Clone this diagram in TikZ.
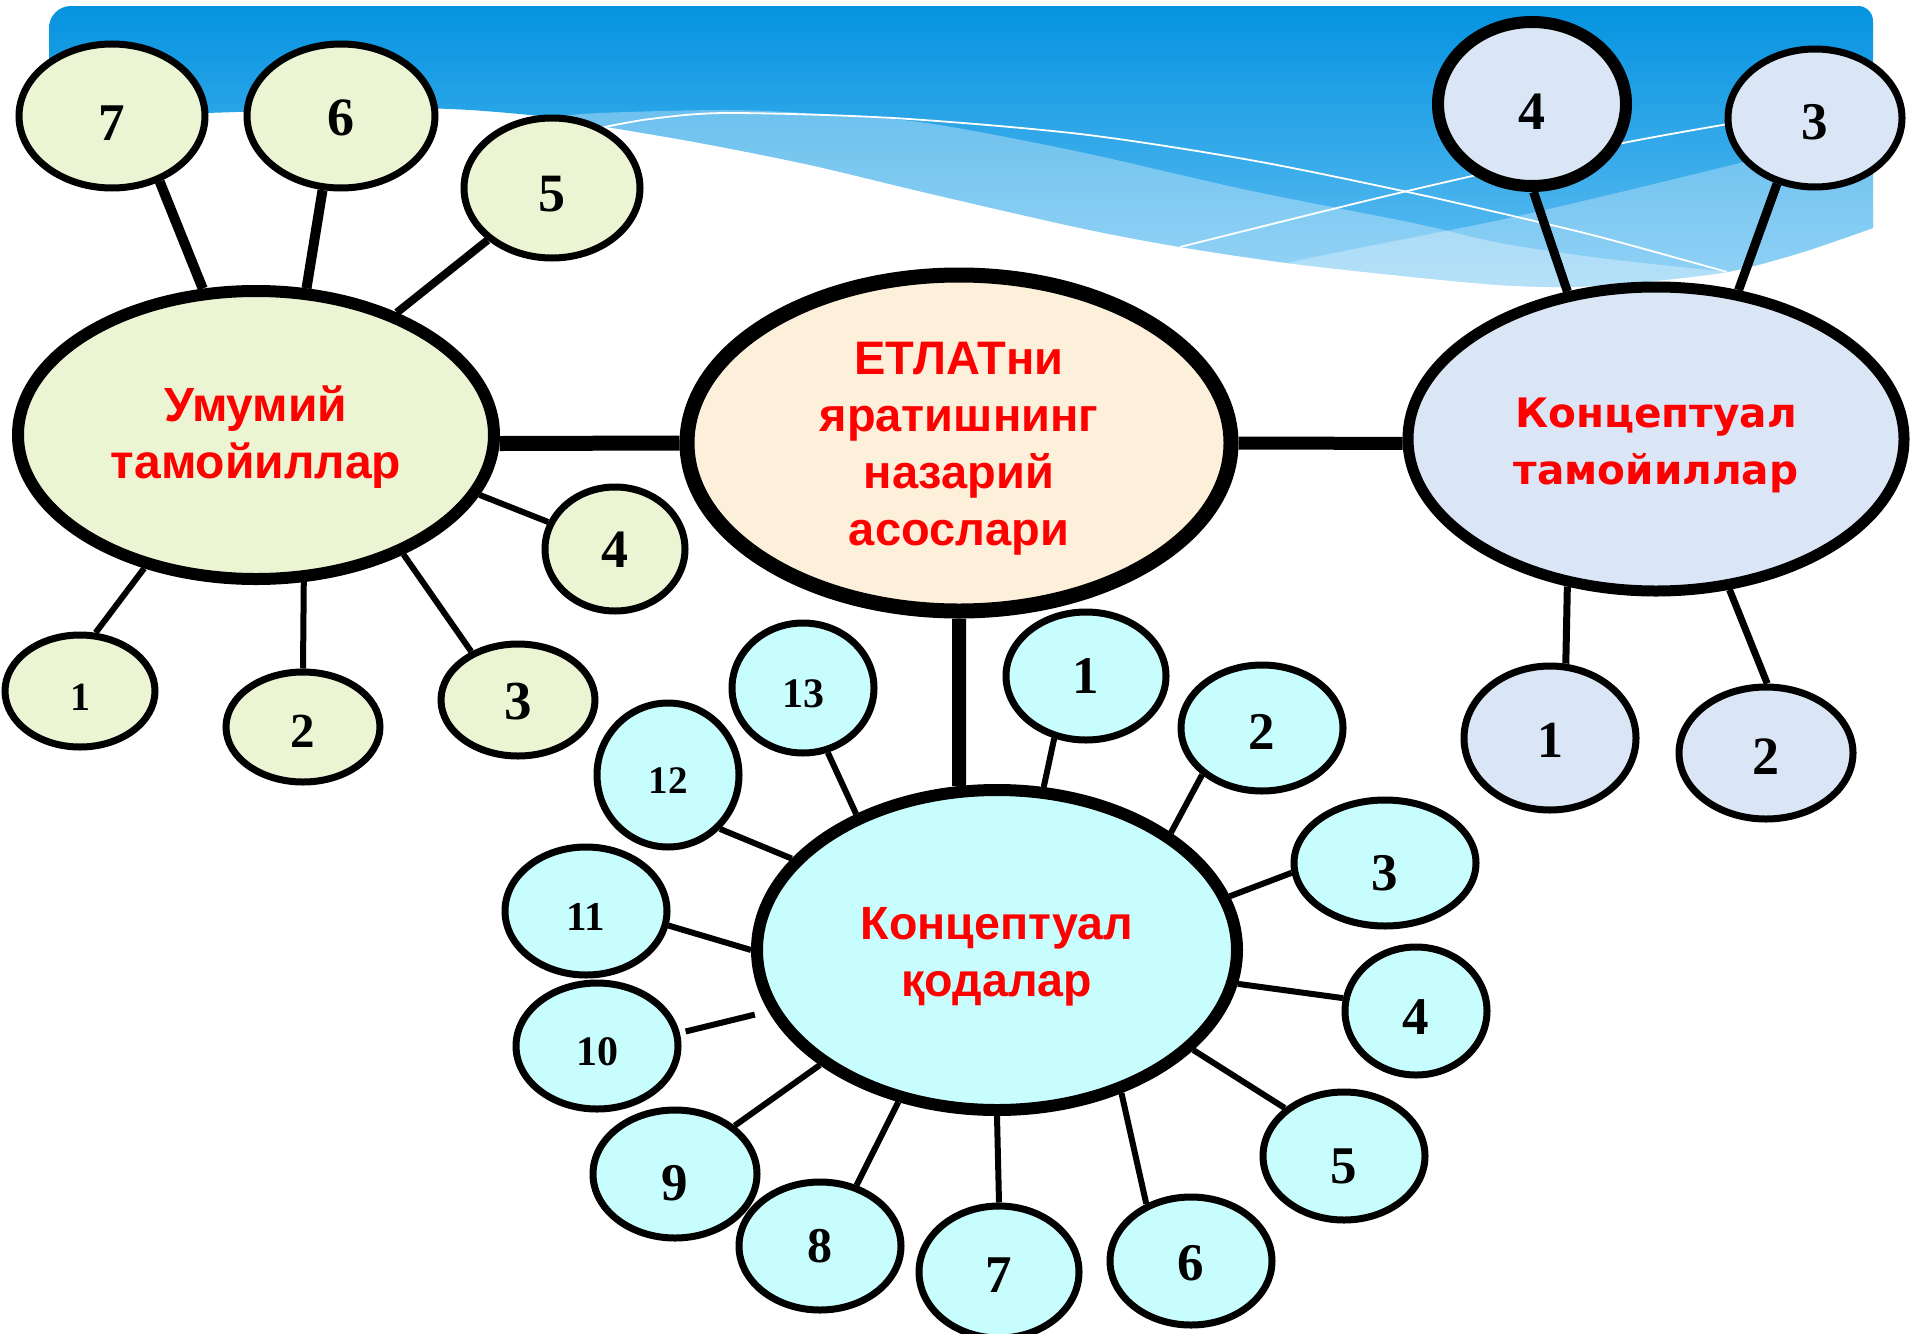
\documentclass[tikz,border=0pt]{standalone}
\usepackage{fontspec}
\setmainfont{Liberation Serif}
\newfontfamily\redfont{Liberation Sans}
\newfontfamily\widefont{DejaVu Sans}
\usetikzlibrary{shapes.geometric}
\pgfdeclarelayer{back}
\pgfdeclarelayer{mid}
\pgfsetlayers{back,mid,main}
\definecolor{fillL}{RGB}{235,245,211}
\definecolor{fillC}{RGB}{253,240,218}
\definecolor{fillR}{RGB}{218,229,245}
\definecolor{fillB}{RGB}{200,253,253}
\definecolor{banTop}{RGB}{5,147,224}
\definecolor{banBot}{RGB}{100,192,243}
\definecolor{txtred}{RGB}{255,0,0}
\newcommand\dropby[2]{\raisebox{-#1}[\height][\depth]{#2}}
\newcommand\lines[1]{\begin{tabular}{@{}c@{}}#1\end{tabular}}
\tikzset{
  ell/.style={ellipse, draw=black, inner sep=0pt, align=center},
  sz/.style 2 args={minimum width=#1pt, minimum height=#2pt},
  smallell/.style={ell, line width=3.5pt},
  bigell/.style={ell, line width=6pt},
  numtxt/.style={font=\bfseries\fontsize{#1}{#1}\selectfont},
  redtxt/.style={text=txtred, font=\redfont\bfseries\fontsize{#1}{28.5}\selectfont},
  widetxt/.style={text=txtred, font=\widefont\bfseries\fontsize{#1}{28.5}\selectfont},
  link/.style={line width=#1pt, line cap=butt},
}
\begin{document}
\begin{tikzpicture}[x=0.5pt,y=-0.5pt]
\useasboundingbox (0,0) rectangle (1911,1333);
% ---------- banner ----------
\begin{pgfonlayer}{back}
\fill[white] (0,0) rectangle (1911,1333);
\begin{scope}
\clip (49,117) -- (49,28) arc[start angle=180,end angle=270,radius=22]
  -- (1858,6) arc[start angle=270,end angle=360,radius=15] -- (1873,228)
  -- plot[smooth,tension=0.5] coordinates {(1873,228) (1800,253) (1727,272) (1633,283) (1567,287) (1500,285) (1413,277) (1287,263) (1180,247) (1080,228) (927,193) (810,165) (700,143) (607,127) (548,117) (470,110) (402,108) (300,110) (207,113) (120,116) (49,117)} -- cycle;
\shade[top color=banTop, bottom color=banBot] (0,6) rectangle (1911,292);
\fill[white, opacity=0.33] plot[smooth,tension=0.5] coordinates {(540,118) (600,113) (727,110) (820,114) (927,123) (1080,152) (1247,190) (1413,223) (1500,243) (1600,258) (1727,272) (1800,280)} -- (1800,400) -- (540,400) -- cycle;
\fill[white, opacity=0.3] plot[smooth,tension=0.5] coordinates {(1250,275) (1287,263) (1400,240) (1500,220) (1600,197) (1740,163) (1880,128)} -- (1880,400) -- (1250,400) -- cycle;
\draw[white, line width=0.9pt] plot[smooth,tension=0.5] coordinates {(600,128) (650,119) (727,113) (893,118) (1080,134) (1250,160) (1403,191) (1500,213) (1600,237) (1727,272)};
\draw[white, line width=0.9pt] plot[smooth,tension=0.5] coordinates {(1180,247) (1403,192) (1623,143) (1800,112)};
\end{scope}
\end{pgfonlayer}
% ---------- left group ----------
\node[bigell, fill=fillL, sz={238}{144}, redtxt=24] (U) at (256,435) {\dropby{2pt}{\lines{Умумий\\тамойиллар}}};
\node[smallell, fill=fillL, sz={93}{72}, numtxt=26.5] (L7) at (112,116) {\dropby{3.5pt}{7}};
\node[smallell, fill=fillL, sz={94}{72}, numtxt=27] (L6) at (341,116) {\dropby{1pt}{6}};
\node[smallell, fill=fillL, sz={88}{70}, numtxt=27] (L5) at (552,188) {\dropby{3pt}{5}};
\node[smallell, fill=fillL, sz={70}{62}, numtxt=27] (L4) at (615,549) {\dropby{0.5pt}{4}};
\node[smallell, fill=fillL, sz={77}{56}, numtxt=27.5] (L3) at (518,700) {\dropby{1pt}{3}};
\node[smallell, fill=fillL, sz={77}{55}, numtxt=24.5] (L2) at (303,727) {\dropby{2pt}{2}};
\node[smallell, fill=fillL, sz={75}{56}, numtxt=20] (L1) at (80,691) {\dropby{3pt}{1}};
% ---------- centre ----------
\node[ell, line width=7.5pt, fill=fillC, sz={272}{168}, redtxt=23.5] (C) at (959,443) {\dropby{3pt}{\lines{ЕТЛАТни\\яратишнинг\\назарий\\асослари}}};
% ---------- right group ----------
\node[ell, line width=5.5pt, fill=fillR, sz={248}{152}, widetxt=20.3] (K) at (1656,439) {\dropby{3pt}{\lines{Концептуал\\тамойиллар}}};
\node[bigell, fill=fillR, sz={94}{82}, numtxt=27] (R4) at (1532,104) {\dropby{4pt}{4}};
\node[smallell, fill=fillR, sz={87}{69}, numtxt=26.5] (R3) at (1815,118) {\dropby{2pt}{3}};
\node[smallell, fill=fillR, sz={86}{72}, numtxt=26] (R1) at (1550,738) {\dropby{1pt}{1}};
\node[smallell, fill=fillR, sz={87}{66}, numtxt=27] (R2) at (1766,753) {\dropby{2pt}{2}};
% ---------- bottom group ----------
\node[bigell, fill=fillB, sz={240}{160}, redtxt=23.3] (Q) at (997,950) {\dropby{3.5pt}{\lines{Концептуал\\қодалар}}};
\node[smallell, fill=fillB, sz={80}{64}, numtxt=26.5] (B1) at (1086,676) {1};
\node[smallell, fill=fillB, sz={81}{63}, numtxt=26.5] (B2) at (1262,728) {\dropby{2pt}{2}};
\node[smallell, fill=fillB, sz={91}{63}, numtxt=26.5] (B3) at (1385,863) {\dropby{5pt}{3}};
\node[smallell, fill=fillB, sz={71}{64}, numtxt=26.5] (B4) at (1416,1011) {\dropby{3pt}{4}};
\node[smallell, fill=fillB, sz={81}{64}, numtxt=26.5] (B5) at (1344,1156) {\dropby{5pt}{5}};
\node[smallell, fill=fillB, sz={81}{64}, numtxt=26.5] (B6) at (1191,1261) {\dropby{1pt}{6}};
\node[smallell, fill=fillB, sz={80}{66}, numtxt=26.5] (B7) at (999,1272) {\dropby{1.5pt}{7}};
\node[smallell, fill=fillB, sz={81}{64}, numtxt=25] (B8) at (820,1246) {8};
\node[smallell, fill=fillB, sz={82}{64}, numtxt=26.5] (B9) at (675,1174) {\dropby{4.5pt}{9}};
\node[smallell, fill=fillB, sz={81}{63}, numtxt=21] (B10) at (597,1046) {\dropby{3pt}{10}};
\node[smallell, fill=fillB, sz={81}{64}, numtxt=20.5] (B11) at (586,911) {\dropby{3pt}{11}};
\node[smallell, fill=fillB, sz={71}{72}, numtxt=19.5] (B12) at (668,775) {\dropby{3pt}{12}};
\node[smallell, fill=fillB, sz={71}{65}, numtxt=21] (B13) at (803,688) {\dropby{3pt}{13}};
% ---------- connectors ----------
\begin{pgfonlayer}{mid}
\draw[link=5] (U.110) -- (L7.-54);
\draw[link=5] (U.71) -- (L6.-104);
\draw[link=4] (U.41) -- (L5.-141);
\draw[link=3] (U.-15) -- (L4.158);
\draw[link=3] (U.-39) -- (L3.134);
\draw[link=3] (U.-72) -- (L2.90);
\draw[link=3] (U.-130) -- (L1.75);
\draw[link=7.5] (U.-2) -- (C.180);
\draw[link=6.5] (C.0) -- (K.181);
\draw[link=7] (C.270) -- (Q.103);
\draw[link=4.5] (K.121) -- (R4.-89);
\draw[link=4.5] (K.61) -- (R3.-120);
\draw[link=3.5] (K.-121) -- (R1.78);
\draw[link=3.5] (K.-64) -- (R2.89);
\draw[link=3] (Q.74) -- (B1.-117);
\draw[link=3] (Q.34) -- (B2.-142);
\draw[link=3] (Q.13) -- (B3.-174);
\draw[link=3] (Q.-8) -- (B4.170);
\draw[link=3] (Q.-27) -- (B5.141);
\draw[link=3] (Q.-49) -- (B6.128);
\draw[link=3] (Q.-90) -- (B7.90);
\draw[link=3] (Q.-123) -- (B8.59);
\draw[link=3] (Q.-147) -- (B9.39);
\draw[link=3, shorten <=7pt, shorten >=3pt] (Q.-165) -- (B10.9);
\draw[link=3] (Q.180) -- (B11.-10);
\draw[link=3] (Q.156) -- (B12.-46);
\draw[link=3] (Q.136) -- (B13.-69);
\end{pgfonlayer}
\end{tikzpicture}
\end{document}
